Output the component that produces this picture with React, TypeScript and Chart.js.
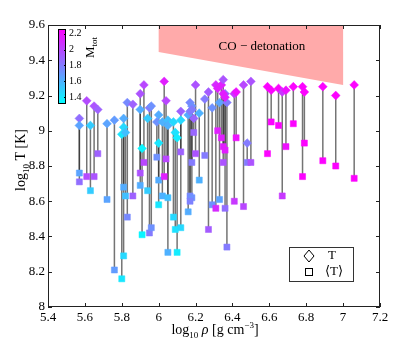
import React, { useEffect, useRef } from "react";
import { Chart, registerables } from "chart.js";

Chart.register(...registerables);

// log10 rho [g cm^-3]
const rho = [
  5.57, 5.57, 5.61, 5.63, 5.65, 5.67, 5.72, 5.76, 5.8, 5.81,
  5.81, 5.82, 5.83, 5.86, 5.9, 5.9, 5.91, 5.92, 5.94, 5.95,
  5.96, 6.0, 5.99, 6.0, 6.03, 6.04, 6.02, 6.05, 6.05, 6.08,
  6.09, 6.1, 6.12, 6.12, 6.16, 6.17, 6.18, 6.19, 6.17, 6.18,
  6.2, 6.22, 6.25, 6.27, 6.29, 6.31, 6.32, 6.33, 6.34, 6.35,
  6.36, 6.35, 6.37, 6.36, 6.41, 6.42, 6.46, 6.48, 6.5, 6.59,
  6.61, 6.65, 6.67, 6.69, 6.73, 6.78, 6.79, 6.89, 6.96, 7.06,
];
// log10 T (peak) -> diamonds
const tPeak = [
  9.07, 9.03, 9.17, 9.03, 9.14, 9.12, 9.04, 9.06, 8.98, 9.02,
  9.07, 8.99, 9.16, 9.15, 9.21, 9.12, 8.9, 9.26, 9.07, 9.13,
  9.14, 9.09, 9.05, 8.93, 9.28, 9.17, 9.05, 9.06, 9.03, 9.05,
  8.99, 8.96, 9.06, 9.11, 9.09, 9.16, 9.14, 9.07, 9.11, 9.12,
  9.26, 9.1, 9.18, 9.22, 9.13, 9.26, 9.24, 9.16, 9.26, 9.29,
  9.21, 9.21, 9.16, 9.19, 9.21, 9.22, 9.26, 8.93, 9.28, 9.25,
  9.23, 9.24, 9.22, 9.23, 9.25, 9.25, 9.22, 9.25, 9.2, 9.26,
];
// log10 <T> -> squares
const tMean = [
  8.71, 8.76, 8.74, 8.66, 8.74, 8.87, 8.61, 8.21, 8.16, 8.29,
  8.68, 8.63, 8.51, 8.63, 8.76, 8.69, 8.41, 8.82, 8.66, 8.42,
  8.45, 8.72, 8.85, 8.58, 8.74, 8.84, 8.63, 8.62, 8.31, 8.51,
  8.44, 8.31, 8.45, 8.88, 8.54, 8.63, 8.62, 8.99, 8.6, 8.82,
  8.87, 8.72, 8.86, 8.44, 8.58, 8.56, 9.0, 8.61, 8.96, 8.82,
  8.56, 8.91, 8.34, 8.89, 8.6, 8.96, 8.57, 8.82, 8.82, 8.87,
  9.05, 9.03, 8.63, 8.91, 9.04, 8.74, 8.93, 8.83, 8.8, 8.73,
];
// M_tot (colour)
const mTot = [
  1.85, 1.65, 1.98, 1.5, 1.95, 1.9, 1.65, 1.68, 1.4, 1.45,
  1.62, 1.55, 1.75, 1.9, 1.95, 1.62, 1.35, 2.0, 1.5, 1.8,
  1.72, 1.62, 1.72, 1.4, 2.15, 2.0, 1.6, 1.55, 1.6, 1.45,
  1.42, 1.38, 1.45, 1.9, 1.62, 1.75, 1.72, 1.88, 1.78, 1.8,
  1.95, 1.6, 1.8, 1.92, 1.72, 2.1, 2.15, 1.65, 2.15, 1.95,
  1.85, 2.15, 1.8, 2.15, 2.05, 2.2, 2.0, 1.8, 1.95, 2.25,
  2.25, 2.25, 2.05, 2.2, 2.25, 2.25, 2.25, 2.25, 2.25, 2.25,
];

const cbMin = 1.31;
const cbMax = 2.26;
const cbTicks = [2.2, 2, 1.8, 1.6, 1.4];

const detonationRho = [6.0, 7.0, 7.0, 6.0];
const detonationT = [9.6, 9.6, 9.26, 9.447];
const detonationLabel = "CO \u2212 detonation";
const detonationLabelPos = [6.56, 9.475];

const legendLabels = ["T", "\u27e8T\u27e9"];

const SERIF = '"Liberation Serif", "DejaVu Serif", serif';

function coolColor(m: number): string {
  let t = (m - cbMin) / (cbMax - cbMin);
  t = Math.max(0, Math.min(1, t));
  return `rgb(${Math.round(255 * t)},${Math.round(255 * (1 - t))},255)`;
}

function fmt(v: number): string {
  return String(Number(v.toFixed(1)));
}

type Seg = { text: string; size: number; shift: number; italic?: boolean };

function drawRich(ctx: CanvasRenderingContext2D, segs: Seg[], x: number, y: number, align: "center" | "left") {
  const widths = segs.map((s) => {
    ctx.font = `${s.italic ? "italic " : ""}${s.size}px ${SERIF}`;
    return ctx.measureText(s.text).width;
  });
  const total = widths.reduce((a, b) => a + b, 0);
  let cx = align === "center" ? x - total / 2 : x;
  ctx.textAlign = "left";
  ctx.textBaseline = "alphabetic";
  segs.forEach((s, i) => {
    ctx.font = `${s.italic ? "italic " : ""}${s.size}px ${SERIF}`;
    ctx.fillText(s.text, cx, y + s.shift);
    cx += widths[i];
  });
}

const overlayPlugin = {
  id: "overlay",
  beforeDatasetsDraw(chart: any) {
    const { ctx, chartArea: ca } = chart;
    const xs = chart.scales.x;
    const ys = chart.scales.y;
    ctx.save();
    ctx.beginPath();
    ctx.rect(ca.left, ca.top, ca.right - ca.left, ca.bottom - ca.top);
    ctx.clip();
    // detonation region
    ctx.fillStyle = "rgb(255,170,170)";
    ctx.beginPath();
    detonationRho.forEach((r, i) => {
      const px = xs.getPixelForValue(r);
      const py = ys.getPixelForValue(detonationT[i]);
      if (i === 0) ctx.moveTo(px, py);
      else ctx.lineTo(px, py);
    });
    ctx.closePath();
    ctx.fill();
    ctx.fillStyle = "#000";
    ctx.font = `13px ${SERIF}`;
    ctx.textAlign = "center";
    ctx.textBaseline = "middle";
    ctx.fillText(
      detonationLabel,
      xs.getPixelForValue(detonationLabelPos[0]),
      ys.getPixelForValue(detonationLabelPos[1])
    );
    // connecting lines
    ctx.strokeStyle = "rgba(30,30,30,0.62)";
    ctx.lineWidth = 1.5;
    rho.forEach((r, i) => {
      const px = xs.getPixelForValue(r);
      ctx.beginPath();
      ctx.moveTo(px, ys.getPixelForValue(tPeak[i]));
      ctx.lineTo(px, ys.getPixelForValue(tMean[i]));
      ctx.stroke();
    });
    ctx.restore();
  },
  afterDraw(chart: any) {
    const { ctx, chartArea: ca } = chart;
    const xs = chart.scales.x;
    const ys = chart.scales.y;
    ctx.save();
    // frame
    ctx.strokeStyle = "#222";
    ctx.lineWidth = 1;
    ctx.strokeRect(ca.left + 0.5, ca.top + 0.5, ca.right - ca.left - 1, ca.bottom - ca.top - 1);
    // inward ticks
    const tl = 4;
    ctx.beginPath();
    xs.ticks.forEach((t: any) => {
      const px = Math.round(xs.getPixelForValue(t.value)) + 0.5;
      ctx.moveTo(px, ca.bottom);
      ctx.lineTo(px, ca.bottom - tl);
      ctx.moveTo(px, ca.top);
      ctx.lineTo(px, ca.top + tl);
    });
    ys.ticks.forEach((t: any) => {
      const py = Math.round(ys.getPixelForValue(t.value)) + 0.5;
      ctx.moveTo(ca.left, py);
      ctx.lineTo(ca.left + tl, py);
      ctx.moveTo(ca.right, py);
      ctx.lineTo(ca.right - tl, py);
    });
    ctx.stroke();

    // colour bar
    const cbL = ca.left + 10;
    const cbW = 8;
    const cbT = ca.top + 4;
    const cbB = ca.top + 79;
    const grad = ctx.createLinearGradient(0, cbB, 0, cbT);
    grad.addColorStop(0, coolColor(cbMin));
    grad.addColorStop(1, coolColor(cbMax));
    ctx.fillStyle = grad;
    ctx.fillRect(cbL, cbT, cbW, cbB - cbT);
    ctx.strokeStyle = "#000";
    ctx.lineWidth = 1;
    ctx.strokeRect(cbL + 0.5, cbT + 0.5, cbW - 1, cbB - cbT - 1);
    ctx.fillStyle = "#000";
    ctx.font = `10px ${SERIF}`;
    ctx.textAlign = "left";
    ctx.textBaseline = "middle";
    cbTicks.forEach((v) => {
      const py = cbB - ((v - cbMin) / (cbMax - cbMin)) * (cbB - cbT);
      ctx.beginPath();
      ctx.moveTo(cbL + cbW - 2, Math.round(py) + 0.5);
      ctx.lineTo(cbL + cbW, Math.round(py) + 0.5);
      ctx.stroke();
      ctx.fillText(fmt(v), cbL + cbW + 3, py);
    });
    // M_tot label
    ctx.save();
    ctx.translate(cbL + 36, cbT + 29);
    ctx.rotate(-Math.PI / 2);
    drawRich(ctx, [
      { text: "M", size: 13, shift: 0 },
      { text: "tot", size: 9, shift: 3 },
    ], 0, 0, "left");
    ctx.restore();

    // legend
    const lw = 64;
    const lh = 34;
    const lx = ca.right - 91;
    const ly = ca.bottom - 60;
    ctx.fillStyle = "#fff";
    ctx.fillRect(lx, ly, lw, lh);
    ctx.strokeStyle = "#333";
    ctx.strokeRect(lx + 0.5, ly + 0.5, lw, lh);
    ctx.strokeStyle = "#000";
    ctx.lineWidth = 1;
    const mx = lx + 20;
    const y1 = ly + 9;
    const y2 = ly + 25;
    ctx.beginPath();
    ctx.moveTo(mx - 5, y1);
    ctx.lineTo(mx, y1 - 6);
    ctx.lineTo(mx + 5, y1);
    ctx.lineTo(mx, y1 + 6);
    ctx.closePath();
    ctx.stroke();
    ctx.strokeRect(mx - 3.5, y2 - 3.5, 7, 7);
    ctx.fillStyle = "#000";
    ctx.font = `13px ${SERIF}`;
    ctx.textAlign = "left";
    ctx.textBaseline = "middle";
    ctx.fillText(legendLabels[0], lx + 39, y1);
    ctx.fillText(legendLabels[1], lx + 36, y2);

    // axis titles
    const cx = (ca.left + ca.right) / 2;
    drawRich(ctx, [
      { text: "log", size: 14, shift: 0 },
      { text: "10", size: 9, shift: 4 },
      { text: " ", size: 14, shift: 0 },
      { text: "\u03c1", size: 14, shift: 0, italic: true },
      { text: " [g cm", size: 14, shift: 0 },
      { text: "\u22123", size: 9, shift: -6 },
      { text: "]", size: 14, shift: 0 },
    ], cx + 1, ca.bottom + 27, "center");
    ctx.save();
    ctx.translate(25, (ca.top + ca.bottom) / 2 - 6);
    ctx.rotate(-Math.PI / 2);
    drawRich(ctx, [
      { text: "log", size: 14, shift: 0 },
      { text: "10", size: 9, shift: 4 },
      { text: " T [K]", size: 14, shift: 0 },
    ], 0, 0, "center");
    ctx.restore();
    ctx.restore();
  },
};

export default function App() {
  const ref = useRef<HTMLCanvasElement | null>(null);
  useEffect(() => {
    document.body.style.margin = "0";
    const canvas = ref.current;
    if (!canvas) return;
    const colors = mTot.map(coolColor);
    const tickFont = { family: SERIF, size: 13 };
    const chart = new Chart(canvas, {
      type: "scatter",
      data: {
        datasets: [
          {
            label: "peak",
            data: rho.map((r, i) => ({ x: r, y: tPeak[i] })),
            pointStyle: "rectRot",
            pointRadius: 4.4,
            pointBackgroundColor: colors,
            pointBorderColor: colors,
            pointBorderWidth: 0.5,
            order: 1,
          },
          {
            label: "mean",
            data: rho.map((r, i) => ({ x: r, y: tMean[i] })),
            pointStyle: "rect",
            pointRadius: 4.3,
            pointBackgroundColor: colors,
            pointBorderColor: colors,
            pointBorderWidth: 0.5,
            order: 2,
          },
        ],
      },
      options: {
        animation: false,
        responsive: false,
        maintainAspectRatio: false,
        layout: { padding: { top: 25, right: 24, left: 0, bottom: 0 } },
        plugins: { legend: { display: false }, tooltip: { enabled: false } },
        scales: {
          x: {
            type: "linear",
            min: 5.4,
            max: 7.2,
            ticks: {
              stepSize: 0.2,
              callback: (v: any) => fmt(Number(v)),
              font: tickFont,
              color: "#000",
              padding: 3,
              maxRotation: 0,
              autoSkip: false,
            },
            grid: { display: false, drawTicks: false },
            border: { display: false },
            afterFit: (s: any) => {
              s.height = 39;
            },
          },
          y: {
            type: "linear",
            min: 8,
            max: 9.6,
            ticks: {
              stepSize: 0.2,
              callback: (v: any) => fmt(Number(v)),
              font: tickFont,
              color: "#000",
              padding: 3,
              autoSkip: false,
            },
            grid: { display: false, drawTicks: false },
            border: { display: false },
            afterFit: (s: any) => {
              s.width = 48;
            },
          },
        },
      },
      plugins: [overlayPlugin],
    } as any);
    return () => chart.destroy();
  }, []);
  return <canvas ref={ref} width={404} height={346} style={{ display: "block" }} />;
}
